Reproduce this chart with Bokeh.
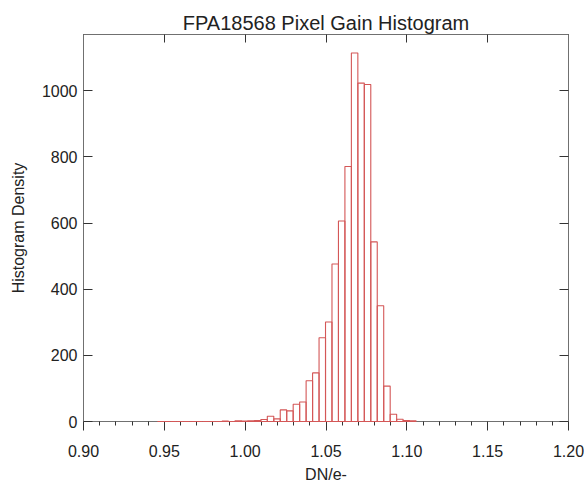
import numpy as np
from bokeh.plotting import figure
from bokeh.models import (Range1d, LinearAxis, FixedTicker, PrintfTickFormatter,
                          ColumnDataSource)
from bokeh.embed import file_html
from bokeh.resources import INLINE

# ---- data ----
title_text = "FPA18568 Pixel Gain Histogram"
x_label = "DN/e-"
y_label = "Histogram Density"
bin_start = 0.9457
bin_width = 0.004
counts = [0, 0, 0, 0, 0, 0, 0, 0, 0, 0,
          1, 0, 2, 1, 2, 3, 6, 16, 8, 35,
          32, 52, 59, 123, 147, 253, 301, 476, 606, 771,
          1114, 1023, 1019, 543, 350, 107, 22, 7, 3, 2]
x_major_ticks = [0.90, 0.95, 1.00, 1.05, 1.10, 1.15, 1.20]
x_minor_ticks = [0.91, 0.92, 0.93, 0.94, 0.96, 0.97, 0.98, 0.99,
                 1.01, 1.02, 1.03, 1.04, 1.06, 1.07, 1.08, 1.09,
                 1.11, 1.12, 1.13, 1.14, 1.16, 1.17, 1.18, 1.19]
y_major_ticks = [0, 200, 400, 600, 800, 1000]

edges = bin_start + bin_width * np.arange(len(counts) + 1)
src = ColumnDataSource(dict(left=edges[:-1], right=edges[1:],
                            top=counts, bottom=[0] * len(counts)))

FONT = "Liberation Sans"
TXT = "#222222"
AX = "#707070"

p = figure(width=584, height=488, output_backend="svg", toolbar_location=None,
           x_range=Range1d(0.90, 1.20), y_range=Range1d(0, 1170),
           x_axis_location=None, y_axis_location=None,
           min_border_left=83, min_border_right=16, min_border_top=34, min_border_bottom=67)
p.grid.visible = False
p.outline_line_color = AX
p.background_fill_color = "white"
p.border_fill_color = "white"

r = p.quad(left="left", right="right", top="top", bottom="bottom", source=src,
           fill_color=None, line_color="#d45757", line_width=1.1)
r.level = "overlay"

# bottom axis
xb = LinearAxis(ticker=FixedTicker(ticks=x_major_ticks, minor_ticks=x_minor_ticks),
                formatter=PrintfTickFormatter(format="%.2f"))
xb.axis_label = x_label
xb.axis_label_text_font = FONT
xb.axis_label_text_font_size = "16px"
xb.axis_label_text_font_style = "normal"
xb.axis_label_text_color = TXT
xb.axis_label_standoff = 6
xb.major_label_text_font = FONT
xb.major_label_text_font_size = "16px"
xb.major_label_text_color = TXT
xb.major_label_standoff = 14
xb.axis_line_color = AX
xb.major_tick_line_color = "#333333"
xb.minor_tick_line_color = "#333333"
xb.major_tick_in = 0
xb.major_tick_out = 9
xb.minor_tick_in = 0
xb.minor_tick_out = 4
p.add_layout(xb, "below")

# top axis (ticks only)
xt = LinearAxis(ticker=FixedTicker(ticks=x_major_ticks, minor_ticks=[]))
xt.major_label_text_font_size = "0px"
xt.major_label_text_color = None
xt.axis_line_color = AX
xt.major_tick_line_color = "#333333"
xt.minor_tick_line_color = None
xt.major_tick_in = 8
xt.major_tick_out = 0
xt.major_label_standoff = 0
p.add_layout(xt, "above")

# left axis
yl = LinearAxis(ticker=FixedTicker(ticks=y_major_ticks, minor_ticks=[]))
yl.axis_label = y_label
yl.axis_label_text_font = FONT
yl.axis_label_text_font_size = "16px"
yl.axis_label_text_font_style = "normal"
yl.axis_label_text_color = TXT
yl.axis_label_standoff = 12
yl.major_label_text_font = FONT
yl.major_label_text_font_size = "16px"
yl.major_label_text_color = TXT
yl.major_label_standoff = 6
yl.major_label_orientation = "horizontal"
yl.axis_line_color = AX
yl.major_tick_line_color = "#333333"
yl.minor_tick_line_color = None
yl.major_tick_in = 9
yl.major_tick_out = 0
p.add_layout(yl, "left")

# right axis (ticks only)
yr = LinearAxis(ticker=FixedTicker(ticks=y_major_ticks, minor_ticks=[]))
yr.major_label_text_font_size = "0px"
yr.major_label_text_color = None
yr.axis_line_color = AX
yr.major_tick_line_color = "#333333"
yr.minor_tick_line_color = None
yr.major_tick_in = 9
yr.major_tick_out = 0
yr.major_label_standoff = 0
p.add_layout(yr, "right")

p.title.text = title_text
p.title.align = "center"
p.title.text_font = FONT
p.title.text_font_size = "20px"
p.title.text_font_style = "normal"
p.title.text_color = TXT
p.title.standoff = 2

open("out.html", "w").write(file_html(p, INLINE))
